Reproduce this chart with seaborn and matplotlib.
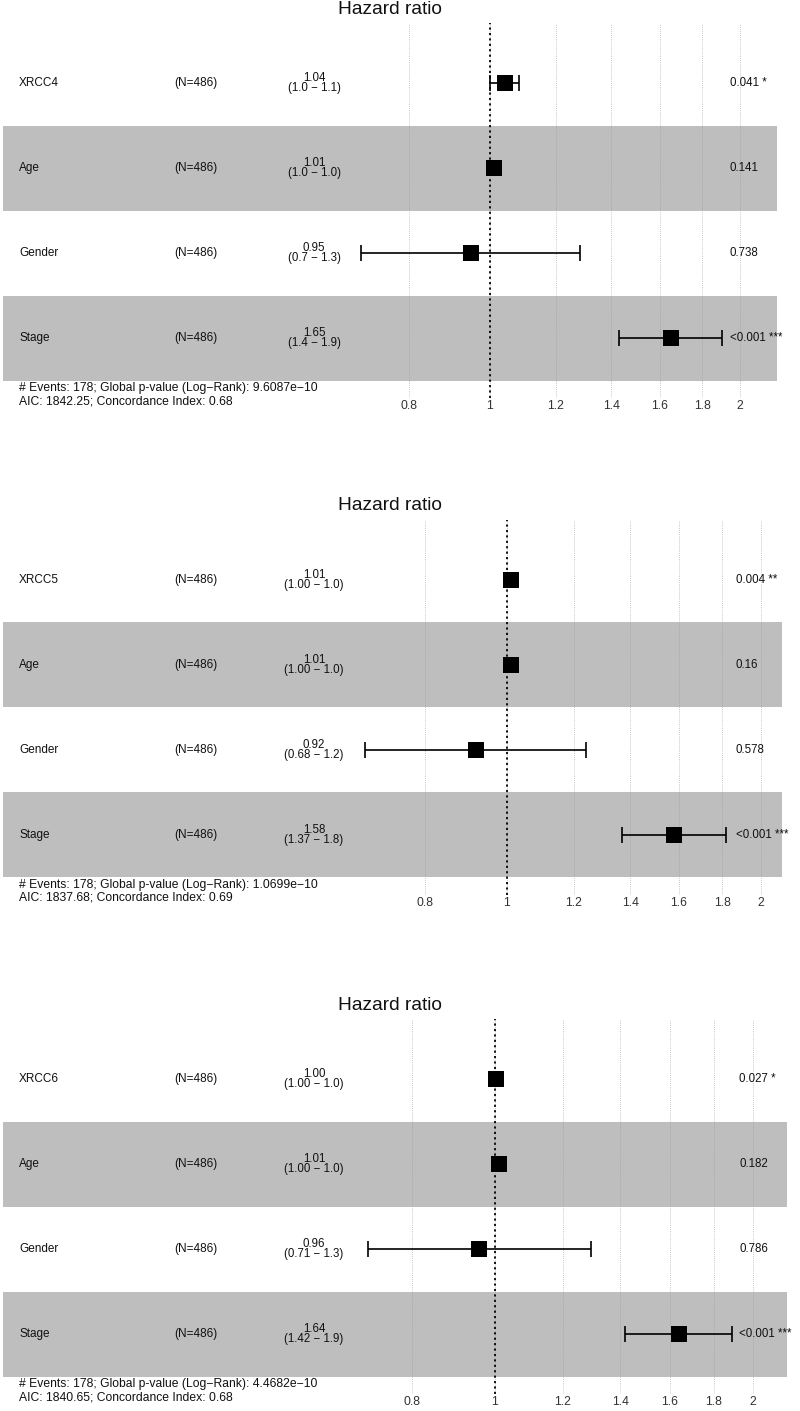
import numpy as np
import pandas as pd
import matplotlib
matplotlib.use('Agg')
import matplotlib.pyplot as plt
import matplotlib.transforms as mtransforms
import seaborn as sns

# ---- data ----
genes = ['XRCC4', 'XRCC5', 'XRCC6']
covars = ['Age', 'Gender', 'Stage']
n_label = '(N=486)'

hr_1 = [1.042, 1.01, 0.949, 1.65]
lo_1 = [1.00, 1.003, 0.70, 1.43]
hi_1 = [1.084, 1.017, 1.283, 1.90]
est_txt_1 = ['1.04', '1.01', '0.95', '1.65']
ci_txt_1 = ['(1.0 \u2212 1.1)', '(1.0 \u2212 1.0)', '(0.7 \u2212 1.3)', '(1.4 \u2212 1.9)']
p_txt_1 = ['0.041 *', '0.141', '0.738', '<0.001 ***']

hr_2 = [1.011, 1.011, 0.918, 1.58]
lo_2 = [1.004, 1.004, 0.678, 1.37]
hi_2 = [1.018, 1.018, 1.241, 1.82]
est_txt_2 = ['1.01', '1.01', '0.92', '1.58']
ci_txt_2 = ['(1.00 \u2212 1.0)', '(1.00 \u2212 1.0)', '(0.68 \u2212 1.2)', '(1.37 \u2212 1.8)']
p_txt_2 = ['0.004 **', '0.16', '0.578', '<0.001 ***']

hr_3 = [1.004, 1.01, 0.958, 1.64]
lo_3 = [1.001, 1.003, 0.711, 1.42]
hi_3 = [1.007, 1.017, 1.294, 1.89]
est_txt_3 = ['1.00', '1.01', '0.96', '1.64']
ci_txt_3 = ['(1.00 \u2212 1.0)', '(1.00 \u2212 1.0)', '(0.71 \u2212 1.3)', '(1.42 \u2212 1.9)']
p_txt_3 = ['0.027 *', '0.182', '0.786', '<0.001 ***']

events = [178, 178, 178]
global_p = ['9.6087e\u221210', '1.0699e\u221210', '4.4682e\u221210']
aic = ['1842.25', '1837.68', '1840.65']
cindex = ['0.68', '0.69', '0.68']

tick_vals = [0.8, 1, 1.2, 1.4, 1.6, 1.8, 2]
tick_labels = ['0.8', '1', '1.2', '1.4', '1.6', '1.8', '2']

panels = [
    (hr_1, lo_1, hi_1, est_txt_1, ci_txt_1, p_txt_1),
    (hr_2, lo_2, hi_2, est_txt_2, ci_txt_2, p_txt_2),
    (hr_3, lo_3, hi_3, est_txt_3, ci_txt_3, p_txt_3),
]

# ---- layout (pixels) ----
W, H = 800, 1411
offsets = [0, 497, 996]
one_px = [490, 507, 495]      # pixel position of HR = 1
px_per_ln = [361, 366, 372]   # pixels per unit of log(HR)
right_px = [777, 782, 787]
p_px = [730, 736, 739]

sns.set_theme(style='white')
plt.rcParams['font.family'] = ['Liberation Sans', 'DejaVu Sans']

fig = plt.figure(figsize=(W / 100, H / 100), dpi=100)
fig.patch.set_facecolor('white')

band_col = '#bebebe'
txt_col = '#111111'
fs = 8.5

for k, (hr, lo, hi, est_txt, ci_txt, p_txt) in enumerate(panels):
    off = offsets[k]
    top, bottom = 23 + off, 398 + off
    left, right = 3, right_px[k]
    ax = fig.add_axes([left / W, 1 - bottom / H, (right - left) / W, (bottom - top) / H])
    ax.set_xscale('log')
    ax.set_xlim(np.exp((left - one_px[k]) / px_per_ln[k]),
                np.exp((right - one_px[k]) / px_per_ln[k]))
    ax.set_ylim(1 - (bottom - (338 + off)) / 85, 4 + ((83 + off) - top) / 85)

    labels = [genes[k]] + covars
    df = pd.DataFrame({'var': labels, 'hr': hr, 'lo': lo, 'hi': hi,
                       'pos': [4, 3, 2, 1]})

    # alternating shaded rows
    for i, row in df.iterrows():
        if i % 2 == 1:
            ax.axhspan(row['pos'] - 0.5, row['pos'] + 0.5, color=band_col, lw=0, zorder=0.2)

    # grid
    ax.set_xticks(tick_vals)
    ax.set_xticklabels(tick_labels)
    ax.xaxis.set_minor_locator(matplotlib.ticker.NullLocator())
    ax.set_axisbelow('line')
    ax.grid(axis='x', color='#9a9a9a', lw=0.6, ls=(0, (1, 1.5)), alpha=0.75)
    ax.grid(axis='y', visible=False)
    ax.axvline(1, color='black', lw=1.3, ls=(0, (1.2, 1.8)), zorder=2)

    # error bars and estimates
    ax.errorbar(df['hr'], df['pos'], xerr=[df['hr'] - df['lo'], df['hi'] - df['hr']],
                fmt='none', ecolor='black', elinewidth=1.2, capsize=6, capthick=1.2, zorder=3)
    sns.scatterplot(data=df, x='hr', y='pos', marker='s', s=125, color='black',
                    edgecolor='black', linewidth=0, ax=ax, zorder=4, legend=False)

    ax.set_xlabel('')
    ax.set_ylabel('')
    ax.set_yticks([])
    for s in ax.spines.values():
        s.set_visible(False)
    ax.tick_params(axis='x', length=0, pad=1.5, labelsize=8.8, labelcolor='#333333')

    # text columns (x in figure pixels, y in data)
    tr = mtransforms.blended_transform_factory(fig.transFigure, ax.transData)
    for i, row in df.iterrows():
        y = row['pos']
        ax.text(19 / W, y, row['var'], transform=tr, ha='left', va='center',
                fontsize=fs, color=txt_col)
        ax.text(196 / W, y, n_label, transform=tr, ha='center', va='center',
                fontsize=fs, color=txt_col)
        ax.text(314 / W, y + 0.055, est_txt[i], transform=tr, ha='center', va='center',
                fontsize=8.3, color=txt_col)
        ax.text(314 / W, y - 0.06, ci_txt[i], transform=tr, ha='center', va='center',
                fontsize=8.3, color=txt_col)
        ax.text(p_px[k] / W, y, p_txt[i], transform=tr, ha='left', va='center',
                fontsize=8.3, color=txt_col)

    fig.text(390 / W, 1 - (9 + off) / H, 'Hazard ratio', ha='center', va='center',
             fontsize=13.8, color=txt_col)
    fig.text(19 / W, 1 - (388 + off) / H,
             '# Events: {}; Global p-value (Log\u2212Rank): {}'.format(events[k], global_p[k]),
             ha='left', va='center', fontsize=8.7, color=txt_col)
    fig.text(19 / W, 1 - (401 + off) / H,
             'AIC: {}; Concordance Index: {}'.format(aic[k], cindex[k]),
             ha='left', va='center', fontsize=8.7, color=txt_col)

fig.savefig('out.png', dpi=100, facecolor='white')
